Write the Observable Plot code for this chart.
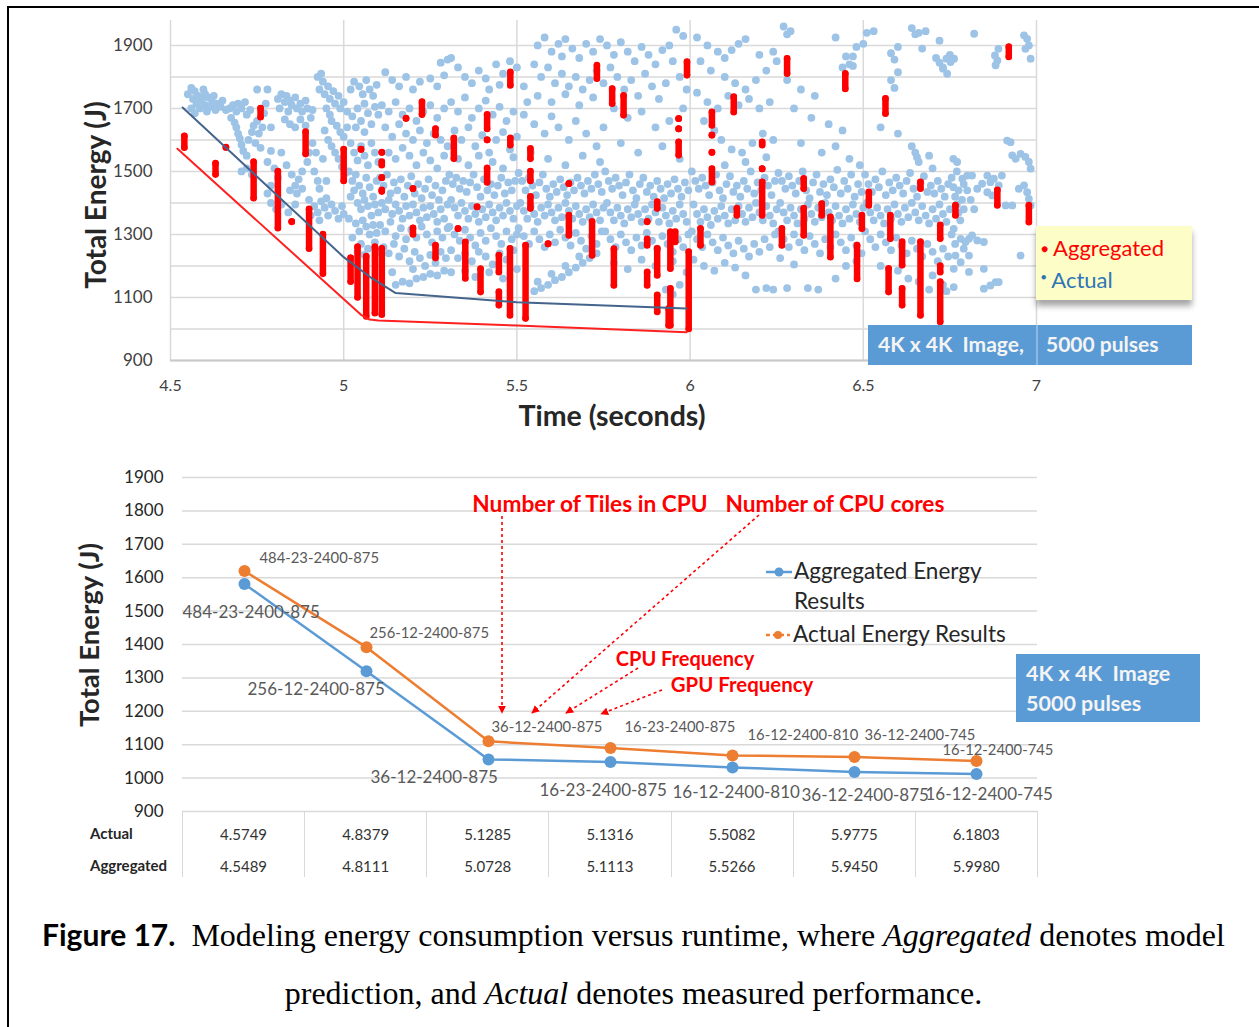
<!DOCTYPE html>
<html><head><meta charset="utf-8">
<script src="https://cdn.jsdelivr.net/npm/d3@7"></script>
<script src="https://cdn.jsdelivr.net/npm/@observablehq/plot@0.6"></script>
<style>
body{margin:0;background:#fff;width:1259px;height:1027px;overflow:hidden;font-family:Lato,sans-serif;position:relative;}
.abs{position:absolute;}
#frame{position:absolute;left:7px;top:6px;width:1300px;height:1100px;border-left:2.5px solid #000;border-top:2.5px solid #000;z-index:20;pointer-events:none;}
.ytitle{position:absolute;transform:translate(-50%,-50%) rotate(-90deg);font-weight:700;white-space:nowrap;color:#262626;}
#legTop{left:1036px;top:226px;width:156px;height:74px;background:#fdfdc8;box-shadow:0 6px 6px rgba(0,0,0,0.35);}
#legTop div{position:absolute;left:5px;font-size:22px;white-space:nowrap;}
#boxTop{left:868px;top:325px;width:324px;height:40px;background:#5b9bd5;color:#f4f4f4;font-weight:700;font-size:21px;}
#boxBot{left:1016px;top:654px;width:184px;height:68px;background:#5b9bd5;color:#f4f4f4;font-weight:700;font-size:21.5px;}
.ann{position:absolute;color:#ff0000;font-weight:700;font-size:22.7px;white-space:nowrap;transform:translate(-50%,-50%);}
.leg2{position:absolute;font-size:22.5px;color:#262626;white-space:nowrap;}
#tbl{position:absolute;left:182px;top:811px;border-collapse:collapse;font-size:15px;color:#333;}
#tbl td{width:122.14px;box-sizing:border-box;padding:0;text-align:center;border-left:1.5px solid #d9d9d9;border-right:1.5px solid #d9d9d9;}
#tbl tr:first-child td{height:44px;padding-top:2px;}
#tbl tr:last-child td{height:22px;}
.rowlab{position:absolute;left:90px;font-size:15px;font-weight:700;color:#262626;transform:translateY(-50%);}
.cap{position:absolute;left:4px;width:1259px;text-align:center;font-family:'Liberation Serif',serif;font-size:32px;color:#000;white-space:nowrap;transform:translateY(-50%);}
</style></head>
<body>
<div id="top" class="abs" style="left:0;top:0"></div>
<div id="bottom" class="abs" style="left:0;top:440px"></div>
<div class="ytitle" style="left:95px;top:195px;font-size:28px">Total Energy (J)</div>
<div class="abs" style="left:612px;top:415px;transform:translate(-50%,-50%);font-weight:700;font-size:28.5px;color:#262626;white-space:nowrap">Time (seconds)</div>
<div id="legTop" class="abs">
  <div style="top:8px;color:#ff0000"><span style="font-size:12px;vertical-align:3px">&#9679;</span> Aggregated</div>
  <div style="top:40px;color:#2e75b6"><span style="font-size:9px;vertical-align:8px">&#9679;</span> Actual</div>
</div>
<div id="boxTop" class="abs">
  <span class="abs" style="left:10px;top:6px;white-space:nowrap">4K x 4K&nbsp; Image,</span>
  <span class="abs" style="left:168px;top:0;width:1.5px;height:40px;background:#8db8e2"></span>
  <span class="abs" style="left:178px;top:6px;white-space:nowrap">5000 pulses</span>
</div>
<div class="ytitle" style="left:88px;top:635px;font-size:27.5px">Total Energy (J)</div>
<div class="ann" style="left:590px;top:503px">Number of Tiles in CPU</div>
<div class="ann" style="left:835px;top:503px">Number of CPU cores</div>
<div class="ann" style="left:685px;top:658px;font-size:20px">CPU Frequency</div>
<div class="ann" style="left:742px;top:684px;font-size:20.4px">GPU Frequency</div>
<svg class="abs" style="left:0;top:0;pointer-events:none" width="1259" height="1027">
  <defs><marker id="ah" viewBox="0 0 10 10" refX="9" refY="5" markerWidth="5" markerHeight="5" orient="auto"><path d="M0,0L10,5L0,10z" fill="#ff0000"/></marker></defs>
  <g stroke="#ff0000" stroke-width="1.6" stroke-dasharray="3,3" fill="none" marker-end="url(#ah)">
    <line x1="502" y1="516" x2="502" y2="713"/>
    <line x1="759" y1="515" x2="532" y2="713"/>
    <line x1="638" y1="668" x2="566" y2="713"/>
    <line x1="662" y1="690" x2="601" y2="714"/>
  </g>
  <line x1="766" y1="572" x2="792" y2="572" stroke="#5b9bd5" stroke-width="2.5"/>
  <circle cx="779" cy="572" r="4.5" fill="#5b9bd5"/>
  <line x1="766" y1="635" x2="790" y2="635" stroke="#ed7d31" stroke-width="2.5" stroke-dasharray="4,3"/>
  <circle cx="778" cy="635" r="4" fill="#ed7d31"/>
</svg>
<div class="leg2" style="left:794px;top:557px">Aggregated Energy</div>
<div class="leg2" style="left:794px;top:587px">Results</div>
<div class="leg2" style="left:793px;top:620px">Actual Energy Results</div>
<div id="boxBot" class="abs">
  <span class="abs" style="left:10px;top:6px;white-space:nowrap">4K x 4K&nbsp; Image</span>
  <span class="abs" style="left:10px;top:36px;white-space:nowrap">5000 pulses</span>
</div>
<div class="rowlab" style="top:833px">Actual</div>
<div class="rowlab" style="top:865px">Aggregated</div>
<table id="tbl"></table>
<div class="cap" style="top:935px"><b style="font-family:Lato,sans-serif;font-size:30px">Figure 17.</b>&nbsp; Modeling energy consumption versus runtime, where <i>Aggregated</i> denotes model</div>
<div class="cap" style="top:993px">prediction, and <i>Actual</i> denotes measured performance.</div>
<div id="frame"></div>
<script>
// ---------- Top chart data ----------
const xTicksTop = [4.5, 5, 5.5, 6, 6.5, 7];
const yTicksTop = [900, 1100, 1300, 1500, 1700, 1900];
const yGridTop = [900, 1000, 1100, 1200, 1300, 1400, 1500, 1600, 1700, 1800, 1900];

// Actual (measured) configurations: [time s, energy J]
const actualPoints = [
[4.55,1745],[4.56,1765],[4.565,1730],[4.57,1755],[4.575,1715],[4.58,1740],[4.585,1700],[4.59,1725],[4.595,1760],[4.60,1710],[4.605,1690],[4.61,1735],[4.615,1705],[4.62,1720],[4.63,1695],[4.635,1715],[4.645,1705],[4.56,1700],[4.57,1685],[4.58,1720],[4.6,1745],[4.625,1740],[4.65,1725],[4.66,1695],
[4.67,1700],[4.68,1710],[4.69,1690],[4.695,1715],[4.705,1700],[4.715,1720],[4.72,1680],[4.73,1695],[4.675,1670],[4.685,1655],[4.69,1640],[4.695,1620],[4.70,1605],[4.705,1585],[4.71,1565],[4.72,1550],[4.725,1600],[4.735,1625],[4.74,1645],[4.75,1660],[4.745,1590],[4.755,1620],[4.76,1575],[4.765,1640],[4.77,1685],[4.78,1760],[4.75,1760],[4.775,1715],[4.72,1510],[4.79,1565],[4.78,1530],[4.735,1490],[4.705,1500],[4.79,1640],
[4.81,1730],[4.82,1745],[4.83,1720],[4.835,1740],[4.845,1725],[4.85,1710],[4.86,1735],[4.865,1700],[4.875,1715],[4.88,1690],[4.89,1725],[4.895,1700],[4.84,1690],[4.815,1700],[4.83,1665],[4.845,1650],[4.86,1640],[4.875,1665],[4.89,1645],[4.905,1670],[4.91,1695],
[4.82,1560],[4.835,1520],[4.85,1490],[4.86,1455],[4.87,1475],[4.88,1500],[4.895,1530],[4.90,1560],[4.91,1590],[4.845,1440],[4.865,1430],[4.88,1445],[4.915,1500],[4.925,1470],[4.93,1445],[4.81,1480],[4.80,1510],[4.79,1455],[4.78,1430],
[4.79,1400],[4.805,1380],[4.82,1395],[4.84,1370],[4.86,1395],[4.9,1410],[4.915,1390],[4.925,1370],[4.935,1405],[4.945,1385],[4.955,1360],[4.965,1395],[4.975,1375],[4.985,1350],[4.995,1390],[4.93,1345],[4.905,1360],[4.95,1415],[5.0,1365],
[4.925,1800],[4.935,1810],[4.94,1785],[4.93,1760],[4.945,1745],[4.955,1770],[4.96,1730],[4.97,1755],[4.975,1715],[4.985,1740],[4.99,1700],[5.0,1720],[5.01,1690],[4.95,1700],[4.96,1680],[4.965,1660],[4.98,1645],[4.99,1625],[5.0,1610],[5.01,1640],[4.945,1630],[4.955,1600],[4.965,1580],[4.975,1560],[4.985,1540],[4.995,1515],[5.005,1495],[4.94,1540],[4.92,1560],[4.95,1470],
[5.02,1760],[5.03,1785],[5.045,1770],[5.055,1745],[5.065,1790],[5.075,1760],[5.085,1740],[5.095,1775],[5.06,1715],[5.04,1700],[5.025,1675],[5.05,1660],[5.07,1685],[5.09,1705],[5.1,1680],[5.08,1650],[5.035,1640],[5.06,1625],
[5.02,1590],[5.03,1560],[5.04,1535],[5.05,1580],[5.06,1550],[5.07,1520],[5.08,1590],[5.09,1560],[5.1,1530],[5.015,1500],[5.025,1470],[5.035,1490],[5.045,1455],[5.055,1430],[5.065,1480],[5.075,1450],[5.085,1420],[5.095,1470],[5.02,1420],[5.03,1440],[5.04,1400],[5.05,1380],[5.06,1410],[5.07,1390],[5.08,1360],[5.09,1395],[5.1,1370],[5.015,1350],[5.035,1335],[5.045,1310],[5.055,1345],[5.065,1325],[5.075,1300],[5.085,1330],[5.095,1305],[5.025,1290],[5.05,1270],[5.07,1255],[5.09,1275],[5.1,1245],[5.04,1245],[5.06,1235],
[5.12,1815],[5.14,1790],[5.16,1770],[5.18,1800],[5.2,1760],[5.22,1785],[5.25,1795],[5.27,1770],[5.29,1805],[5.3,1855],[5.28,1845],
[5.11,1710],[5.13,1690],[5.15,1720],[5.17,1680],[5.19,1700],[5.21,1660],[5.23,1690],[5.25,1710],[5.27,1670],[5.29,1700],[5.12,1640],[5.14,1610],[5.16,1650],[5.18,1620],[5.2,1600],[5.22,1630],[5.24,1590],[5.26,1620],[5.28,1600],[5.13,1560],[5.15,1540],[5.17,1575],[5.19,1550],[5.21,1520],[5.23,1560],[5.25,1535],[5.27,1510],[5.29,1550],[5.3,1580],
[5.105,1480],[5.115,1455],[5.125,1490],[5.135,1430],[5.145,1465],[5.155,1440],[5.165,1475],[5.175,1420],[5.185,1455],[5.195,1485],[5.205,1430],[5.215,1460],[5.225,1415],[5.235,1445],[5.245,1475],[5.255,1425],[5.265,1455],[5.275,1410],[5.285,1440],[5.295,1470],
[5.11,1400],[5.12,1380],[5.13,1410],[5.14,1365],[5.15,1395],[5.16,1375],[5.17,1350],[5.18,1390],[5.19,1360],[5.2,1395],[5.21,1370],[5.22,1345],[5.23,1385],[5.24,1355],[5.25,1390],[5.26,1365],[5.27,1340],[5.28,1380],[5.29,1350],[5.3,1395],
[5.105,1330],[5.12,1310],[5.135,1340],[5.15,1295],[5.165,1320],[5.18,1285],[5.195,1315],[5.21,1290],[5.225,1325],[5.24,1300],[5.255,1275],[5.27,1310],[5.285,1290],[5.3,1320],
[5.115,1260],[5.13,1240],[5.145,1270],[5.16,1230],[5.175,1255],[5.19,1215],[5.205,1245],[5.22,1225],[5.235,1200],[5.25,1235],[5.265,1210],[5.28,1245],[5.295,1225],
[5.15,1140],[5.17,1150],[5.19,1145],[5.21,1160],[5.23,1165],[5.25,1175],[5.27,1170],[5.29,1185],[5.31,1180],[5.14,1180],[5.2,1190],
[5.31,1860],[5.33,1830],[5.35,1800],[5.37,1780],[5.39,1820],[5.41,1795],[5.44,1840],[5.46,1810],[5.48,1850],[5.5,1830],[5.42,1760],[5.45,1775],
[5.31,1720],[5.33,1690],[5.35,1735],[5.37,1670],[5.39,1700],[5.41,1725],[5.43,1680],[5.45,1705],[5.47,1660],[5.49,1690],[5.32,1630],[5.34,1600],[5.36,1640],[5.38,1580],[5.4,1615],[5.42,1560],[5.44,1600],[5.46,1625],[5.48,1570],[5.5,1610],[5.33,1540],[5.36,1520],[5.39,1550],[5.43,1530],[5.46,1510],[5.49,1545],
[5.305,1490],[5.315,1460],[5.325,1480],[5.335,1445],[5.345,1470],[5.355,1435],[5.365,1465],[5.375,1490],[5.385,1450],[5.395,1420],[5.405,1475],[5.415,1440],[5.425,1460],[5.435,1425],[5.445,1455],[5.455,1480],[5.465,1430],[5.475,1465],[5.485,1440],[5.495,1470],
[5.31,1410],[5.32,1385],[5.33,1360],[5.34,1400],[5.35,1375],[5.36,1350],[5.37,1390],[5.38,1365],[5.39,1340],[5.4,1380],[5.41,1355],[5.42,1395],[5.43,1370],[5.44,1345],[5.45,1385],[5.46,1360],[5.47,1400],[5.48,1375],[5.49,1350],[5.5,1390],
[5.305,1325],[5.32,1300],[5.335,1280],[5.35,1315],[5.365,1290],[5.38,1265],[5.395,1305],[5.41,1280],[5.425,1320],[5.44,1295],[5.455,1270],[5.47,1310],[5.485,1285],[5.5,1300],
[5.31,1250],[5.33,1225],[5.35,1240],[5.37,1215],[5.39,1245],[5.41,1230],[5.43,1205],[5.45,1240],[5.47,1220],[5.49,1250],
[5.35,1185],[5.38,1165],[5.42,1180],[5.46,1160],[5.5,1190],
[5.56,1900],[5.58,1925],[5.6,1880],[5.62,1905],[5.64,1920],[5.63,1865],[5.66,1890],[5.68,1860],[5.7,1905],[5.72,1880],[5.74,1920],[5.55,1840],[5.57,1800],[5.59,1830],[5.61,1780],[5.63,1810],[5.65,1770],[5.67,1800],[5.69,1760],[5.71,1790],[5.73,1820],[5.75,1780],[5.56,1740],[5.6,1720],[5.64,1745],[5.68,1710],[5.72,1735],[5.52,1770],[5.53,1720],
[5.52,1680],[5.55,1650],[5.58,1620],[5.6,1675],[5.62,1640],[5.65,1600],[5.67,1660],[5.7,1620],[5.73,1580],[5.75,1640],[5.54,1560],[5.59,1540],[5.64,1520],[5.69,1550],[5.74,1530],
[5.505,1495],[5.515,1470],[5.525,1440],[5.535,1480],[5.545,1455],[5.555,1425],[5.565,1465],[5.575,1490],[5.585,1445],[5.595,1420],[5.605,1460],[5.615,1435],[5.625,1475],[5.635,1450],[5.645,1425],[5.655,1465],[5.665,1440],[5.675,1480],[5.685,1455],[5.695,1430],[5.705,1470],[5.715,1445],[5.725,1490],[5.735,1460],[5.745,1435],
[5.51,1400],[5.52,1375],[5.53,1350],[5.54,1390],[5.55,1365],[5.56,1340],[5.57,1385],[5.58,1360],[5.59,1395],[5.6,1370],[5.61,1345],[5.62,1385],[5.63,1355],[5.64,1400],[5.65,1375],[5.66,1350],[5.67,1390],[5.68,1365],[5.69,1340],[5.7,1380],[5.71,1355],[5.72,1395],[5.73,1370],[5.74,1345],[5.75,1385],
[5.505,1320],[5.52,1295],[5.535,1270],[5.55,1310],[5.565,1285],[5.58,1260],[5.595,1300],[5.61,1275],[5.625,1315],[5.64,1290],[5.655,1265],[5.67,1305],[5.685,1280],[5.7,1255],[5.715,1295],[5.73,1270],[5.745,1310],
[5.55,1120],[5.57,1130],[5.59,1140],[5.61,1155],[5.63,1165],[5.65,1180],[5.67,1195],[5.69,1210],[5.71,1225],[5.73,1240],[5.56,1150],[5.6,1175],[5.64,1200],[5.68,1230],
[5.76,1900],[5.78,1870],[5.8,1910],[5.82,1880],[5.84,1850],[5.86,1895],[5.88,1870],[5.9,1840],[5.92,1885],[5.94,1900],[5.96,1950],[5.98,1930],[5.77,1830],[5.79,1800],[5.81,1760],[5.83,1790],[5.85,1740],[5.87,1810],[5.89,1770],[5.91,1730],[5.93,1780],[5.95,1850],[5.97,1800],[5.99,1760],
[5.78,1700],[5.82,1670],[5.86,1690],[5.9,1640],[5.94,1660],[5.98,1700],[5.8,1590],[5.85,1560],[5.92,1580],[5.97,1540],
[5.755,1500],[5.765,1470],[5.775,1445],[5.785,1480],[5.795,1455],[5.805,1425],[5.815,1465],[5.825,1490],[5.835,1440],[5.845,1415],[5.855,1460],[5.865,1480],[5.875,1435],[5.885,1455],[5.895,1420],[5.905,1470],[5.915,1445],[5.925,1415],[5.935,1460],[5.945,1430],[5.955,1475],[5.965,1445],[5.975,1420],[5.985,1465],[5.995,1440],
[5.76,1400],[5.77,1370],[5.78,1345],[5.79,1385],[5.8,1360],[5.81,1335],[5.82,1380],[5.83,1355],[5.84,1395],[5.85,1365],[5.86,1340],[5.87,1380],[5.88,1350],[5.89,1395],[5.9,1370],[5.91,1340],[5.92,1385],[5.93,1360],[5.94,1335],[5.95,1375],[5.96,1350],[5.97,1395],[5.98,1365],[5.99,1340],
[5.755,1310],[5.77,1285],[5.785,1260],[5.8,1300],[5.815,1275],[5.83,1250],[5.845,1290],[5.86,1265],[5.875,1305],[5.89,1280],[5.905,1255],[5.92,1295],[5.935,1270],[5.95,1245],[5.965,1285],[5.98,1260],[5.995,1300],
[5.78,1210],[5.82,1190],[5.86,1220],[5.9,1200],[5.95,1215],[5.99,1180],[5.97,1140],[5.95,1110],[5.93,1125],
[6.02,1925],[6.05,1900],[6.08,1880],[6.1,1860],[6.12,1885],[6.14,1905],[6.16,1920],[6.03,1850],[6.06,1820],[6.1,1800],[6.13,1780],[6.16,1760],[6.19,1790],[6.22,1820],[6.2,1870],[6.24,1880],[6.25,1850],
[6.02,1750],[6.05,1720],[6.08,1700],[6.11,1740],[6.14,1710],[6.17,1730],[6.2,1700],[6.23,1720],[6.04,1660],[6.07,1630],[6.09,1600],[6.12,1570],[6.15,1560],[6.18,1590],[6.21,1620],[6.24,1600],[6.1,1520],[6.16,1530],[6.22,1545],
[6.005,1500],[6.015,1470],[6.025,1445],[6.035,1480],[6.045,1455],[6.055,1425],[6.065,1465],[6.075,1490],[6.085,1440],[6.095,1415],[6.105,1460],[6.115,1485],[6.125,1435],[6.135,1455],[6.145,1420],[6.155,1470],[6.165,1445],[6.175,1500],[6.185,1430],[6.195,1465],[6.205,1440],[6.215,1480],[6.225,1455],[6.235,1425],[6.245,1470],
[6.01,1395],[6.02,1365],[6.03,1340],[6.04,1380],[6.05,1355],[6.06,1330],[6.07,1375],[6.08,1350],[6.09,1390],[6.1,1360],[6.11,1335],[6.12,1380],[6.13,1345],[6.14,1390],[6.15,1365],[6.16,1340],[6.17,1385],[6.18,1355],[6.19,1400],[6.2,1370],[6.21,1345],[6.22,1390],[6.23,1360],[6.24,1335],[6.25,1380],
[6.005,1310],[6.02,1285],[6.035,1260],[6.05,1300],[6.065,1275],[6.08,1250],[6.095,1290],[6.11,1265],[6.125,1240],[6.14,1280],[6.155,1255],[6.17,1230],[6.185,1270],[6.2,1245],[6.215,1285],[6.23,1260],[6.245,1300],
[6.01,1220],[6.04,1200],[6.07,1185],[6.1,1210],[6.13,1195],[6.16,1170],[6.19,1125],[6.22,1130],[6.24,1125],[6.28,1130],
[6.27,1960],[6.29,1945],[6.28,1935],[6.42,1925],[6.45,1865],[6.47,1865],[6.48,1895],[6.5,1905],[6.51,1940],[6.53,1945],[6.46,1840],[6.44,1830],[6.47,1835],
[6.28,1790],[6.32,1760],[6.36,1740],[6.3,1700],[6.35,1670],[6.4,1650],[6.44,1630],[6.32,1590],[6.38,1560],[6.42,1580],[6.46,1540],[6.49,1520],
[6.255,1495],[6.265,1470],[6.275,1445],[6.285,1485],[6.295,1455],[6.305,1430],[6.315,1470],[6.325,1500],[6.335,1440],[6.345,1415],[6.355,1465],[6.365,1490],[6.375,1435],[6.385,1460],[6.395,1425],[6.405,1475],[6.415,1450],[6.425,1505],[6.435,1430],[6.445,1470],[6.455,1445],[6.465,1490],[6.475,1420],[6.485,1460],[6.495,1435],
[6.26,1400],[6.27,1370],[6.28,1345],[6.29,1385],[6.3,1360],[6.31,1335],[6.32,1380],[6.33,1350],[6.34,1395],[6.35,1365],[6.36,1340],[6.37,1385],[6.38,1355],[6.39,1400],[6.4,1370],[6.41,1345],[6.42,1390],[6.43,1360],[6.44,1335],[6.45,1380],[6.46,1350],[6.47,1395],[6.48,1365],[6.49,1340],[6.5,1385],
[6.255,1310],[6.27,1285],[6.285,1260],[6.3,1300],[6.315,1275],[6.33,1250],[6.345,1295],[6.36,1270],[6.375,1240],[6.39,1285],[6.405,1260],[6.42,1300],[6.435,1275],[6.45,1250],[6.465,1290],[6.48,1265],[6.495,1240],
[6.26,1225],[6.3,1205],[6.34,1130],[6.37,1125],[6.42,1160],[6.45,1200],[6.48,1215],
[6.58,1875],[6.59,1855],[6.6,1895],[6.58,1790],[6.59,1765],[6.6,1815],[6.64,1955],[6.65,1935],[6.66,1940],[6.67,1890],[6.68,1945],[6.72,1915],[6.71,1860],[6.72,1845],[6.73,1830],[6.75,1870],
[6.64,1580],[6.65,1560],[6.655,1545],[6.66,1530],[6.69,1550],[6.55,1640],[6.6,1620],[6.7,1510],
[6.505,1490],[6.515,1460],[6.525,1435],[6.535,1475],[6.545,1450],[6.555,1500],[6.565,1425],[6.575,1465],[6.585,1440],[6.595,1480],[6.605,1455],[6.615,1430],[6.625,1470],[6.635,1495],[6.645,1445],[6.655,1420],[6.665,1460],[6.675,1485],[6.685,1435],[6.695,1455],[6.705,1430],[6.715,1470],[6.725,1445],[6.735,1420],[6.745,1460],
[6.51,1400],[6.52,1370],[6.53,1345],[6.54,1385],[6.55,1360],[6.56,1335],[6.57,1380],[6.58,1350],[6.59,1395],[6.6,1365],[6.61,1340],[6.62,1385],[6.63,1355],[6.64,1400],[6.65,1370],[6.66,1345],[6.67,1390],[6.68,1360],[6.69,1335],[6.7,1380],[6.71,1350],[6.72,1395],[6.73,1365],[6.74,1340],[6.75,1380],
[6.505,1310],[6.52,1285],[6.535,1260],[6.55,1300],[6.565,1275],[6.58,1250],[6.595,1290],[6.61,1265],[6.625,1240],[6.64,1280],[6.655,1255],[6.67,1230],[6.685,1270],[6.7,1245],[6.715,1215],[6.73,1255],[6.745,1230],
[6.55,1200],[6.6,1185],[6.63,1160],[6.66,1150],[6.7,1170],[6.73,1140],[6.74,1120],[6.69,1125],
[6.82,1937],[6.88,1868],[6.887,1852],[6.882,1837],[6.89,1889],[6.74,1858],[6.752,1847],[6.762,1858],[6.73,1826],[6.742,1810],[6.964,1932],[6.973,1921],[6.978,1900],[6.968,1889],[6.983,1858],
[6.915,1598],[6.925,1593],[6.93,1551],[6.94,1540],[6.954,1556],[6.968,1546],[6.978,1530],[6.983,1509],
[6.771,1530],[6.786,1477],[6.8,1487],[6.814,1487],[6.829,1445],[6.843,1461],[6.858,1487],[6.867,1466],[6.877,1477],[6.891,1456],[6.9,1487],[6.858,1434],[6.872,1424],[6.911,1392],[6.93,1392],[6.949,1445],[6.964,1456],[6.973,1434],[6.978,1413],[6.983,1392],
[6.761,1318],[6.781,1286],[6.795,1276],[6.805,1286],[6.814,1297],[6.829,1281],[6.848,1276],[6.79,1255],[6.805,1233],[6.766,1233],[6.781,1212],[6.761,1191],[6.805,1181],[6.848,1191],[6.954,1233],[6.848,1128],[6.867,1138],[6.882,1149],[6.891,1149],[6.761,1133],
[6.755,1480],[6.76,1450],[6.765,1420],[6.77,1395],[6.775,1370],[6.78,1345],[6.755,1300],[6.765,1270],[6.775,1440],[6.785,1410],[6.79,1380],[6.77,1500],[6.76,1540],[6.8,1440],[6.79,1460],[6.81,1410],[6.82,1380]
];

// Aggregated (model) configurations: stacks of points [time s, lowest J, highest J]
const aggregatedStacks = [
[4.54,1575,1612],[4.63,1490,1525],[4.66,1576,1576],[4.76,1672,1700],[4.74,1415,1530],[4.81,1320,1500],[4.85,1340,1340],[4.89,1555,1625],[4.90,1255,1380],[4.94,1175,1300],[5.0,1470,1570],[5.02,1150,1225],[5.05,1570,1570],
[5.04,1100,1260],[5.065,1040,1230],[5.09,1050,1260],
[5.11,1045,1255],[5.11,1436,1440],[5.11,1480,1480],[5.11,1520,1530],[5.11,1560,1560],[5.18,1668,1668],[5.2,1300,1320],[5.2,1445,1445],[5.226,1680,1720],[5.265,1225,1265],[5.265,1615,1635],[5.318,1540,1605],[5.33,1318,1318],[5.351,1160,1275],[5.385,1387,1387],[5.395,1117,1190],[5.414,1635,1680],[5.414,1600,1600],[5.414,1465,1510],[5.448,1180,1233],[5.448,1075,1117],[5.481,1773,1815],[5.481,1583,1605],[5.48,1043,1255],[5.525,1033,1265],[5.539,1540,1572],[5.539,1470,1500],[5.539,1382,1420],[5.59,1270,1270],[5.65,1461,1461],[5.65,1297,1360],[5.717,1233,1340],[5.731,1794,1836],[5.775,1715,1762],[5.78,1138,1254],[5.808,1678,1740],[5.876,1340,1340],[5.876,1265,1285],[5.876,1138,1180],[5.905,1382,1403],[5.905,1170,1255],[5.905,1054,1107],[5.938,1011,1064],
[5.943,1191,1308],[5.943,1011,1128],[5.957,1276,1308],[5.967,1551,1593],[5.967,1635,1635],[5.967,1667,1667],[5.991,1805,1847],[5.996,1000,1244],[6.03,1265,1318],[6.063,1646,1688],[6.063,1615,1615],[6.063,1560,1560],[6.063,1466,1508],[6.126,1688,1736],[6.135,1360,1382],[6.208,1583,1593],[6.208,1508,1508],[6.208,1360,1466],[6.265,1265,1318],[6.28,1810,1858],[6.328,1445,1477],[6.328,1297,1382],[6.38,1360,1397],[6.405,1228,1355],[6.448,1762,1810],[6.482,1159,1265],[6.496,1318,1360],[6.516,1392,1434],[6.564,1683,1731],[6.573,1117,1191],[6.578,1286,1360],[6.612,1202,1276],[6.612,1075,1128],[6.665,1445,1466],[6.665,1043,1276],[6.722,1286,1329],[6.722,1180,1200],[6.722,1022,1149],[6.766,1360,1392],[6.887,1392,1440],[6.92,1863,1895],[6.978,1339,1392]
];

// Lower envelopes (best configurations)
const actualFront = [[4.535,1703],[5.0,1228],[5.08,1162],[5.15,1114],[5.5,1085],[5.99,1065]];
const aggregatedFront = [[4.52,1572],[5.05,1045],[5.075,1030],[5.1,1027],[5.5,1011],[5.99,990]];

// ---------- Bottom chart data ----------
const actualTimes = ["4.5749","4.8379","5.1285","5.1316","5.5082","5.9775","6.1803"];
const aggregatedTimes = ["4.5489","4.8111","5.0728","5.1113","5.5266","5.9450","5.9980"];
const actualEnergy = [1620, 1392, 1110, 1090, 1068, 1063, 1051];
const aggregatedEnergy = [1581, 1320, 1056, 1048, 1032, 1018, 1012];
const actualConfigs = ["484-23-2400-875","256-12-2400-875","36-12-2400-875","16-23-2400-875","16-12-2400-810","36-12-2400-745","16-12-2400-745"];
const aggregatedConfigs = ["484-23-2400-875","256-12-2400-875","36-12-2400-875","16-23-2400-875","16-12-2400-810","36-12-2400-875","16-12-2400-745"];
const yTicksBottom = [900,1000,1100,1200,1300,1400,1500,1600,1700,1800,1900];

const fmt = d => String(d);

// ---------- Top chart ----------
const topChart = Plot.plot({
  width: 1259, height: 440,
  marginLeft: 170, marginRight: 223, marginTop: 20, marginBottom: 80,
  style: {fontFamily: "Lato, sans-serif", fontSize: "16px", color: "#404040", background: "none", overflow: "visible"},
  x: {domain: [4.5, 7]},
  y: {domain: [900, 1979]},
  marks: [
    Plot.gridY(yGridTop, {stroke: "#d9d9d9", strokeOpacity: 1, strokeWidth: 1.5}),
    Plot.gridX(xTicksTop, {stroke: "#d9d9d9", strokeOpacity: 1, strokeWidth: 1.5}),
    Plot.ruleY([900], {stroke: "#c8c8c8", strokeWidth: 2}),
    Plot.dot(actualPoints, {x: d => d[0], y: d => d[1], r: 3.9, fill: "#9dc3e6", stroke: "none"}),
    Plot.ruleX(aggregatedStacks, {x: d => d[0], y1: d => d[1], y2: d => d[2], stroke: "#ff0000", strokeWidth: 6.5, strokeLinecap: "round"}),
    Plot.dot(aggregatedStacks, {x: d => d[0], y: d => d[1], r: 3.3, fill: "#ff0000"}),
    Plot.dot(aggregatedStacks, {x: d => d[0], y: d => d[2], r: 3.3, fill: "#ff0000"}),
    Plot.line(actualFront, {x: d => d[0], y: d => d[1], stroke: "#44648c", strokeWidth: 2}),
    Plot.line(aggregatedFront, {x: d => d[0], y: d => d[1], stroke: "#ff2020", strokeWidth: 2}),
    Plot.axisX(xTicksTop, {tickSize: 0, tickPadding: 19, label: null, tickFormat: fmt, fontSize: 16}),
    Plot.axisY(yTicksTop, {tickSize: 0, tickPadding: 18, label: null, tickFormat: fmt, fontSize: 17})
  ]
});
document.getElementById("top").appendChild(topChart);

// ---------- Bottom chart ----------
const rows = aggregatedTimes.map((t, i) => ({
  col: t, act: actualEnergy[i], agg: aggregatedEnergy[i],
  actCfg: actualConfigs[i], aggCfg: aggregatedConfigs[i]
}));
// label placement offsets (layout only)
const actOff = [[15,-13],[3,-14],[3,-14],[14,-21],[15,-20],[10,-22],[-34,-11]];
const aggOff = [[-62,29],[-119,18],[-118,18],[-71,28],[-60,25],[-53,23],[-51,20]];
const labelMarks = [];
rows.forEach((r, i) => {
  labelMarks.push(Plot.text([r], {x: "col", y: "act", text: "actCfg", dx: actOff[i][0], dy: actOff[i][1], textAnchor: "start", fontSize: 14.8, fill: "#595959"}));
  labelMarks.push(Plot.text([r], {x: "col", y: "agg", text: "aggCfg", dx: aggOff[i][0], dy: aggOff[i][1], textAnchor: "start", fontSize: 17, fill: "#595959"}));
});
const bottomChart = Plot.plot({
  width: 1259, height: 450,
  marginLeft: 182, marginRight: 222, marginTop: 37, marginBottom: 79,
  style: {fontFamily: "Lato, sans-serif", fontSize: "16px", color: "#262626", background: "none", overflow: "visible"},
  x: {type: "point", domain: aggregatedTimes, padding: 0.5, axis: null},
  y: {domain: [900, 1900]},
  marks: [
    Plot.gridY(yTicksBottom, {stroke: "#d9d9d9", strokeOpacity: 1, strokeWidth: 1.5}),
    Plot.axisY(yTicksBottom, {tickSize: 0, tickPadding: 19, label: null, tickFormat: fmt, fontSize: 17}),
    Plot.line(rows, {x: "col", y: "agg", stroke: "#5b9bd5", strokeWidth: 2.5}),
    Plot.line(rows, {x: "col", y: "act", stroke: "#ed7d31", strokeWidth: 2.5}),
    Plot.dot(rows, {x: "col", y: "agg", r: 6, fill: "#5b9bd5"}),
    Plot.dot(rows, {x: "col", y: "act", r: 6, fill: "#ed7d31"}),
    ...labelMarks
  ]
});
document.getElementById("bottom").appendChild(bottomChart);

// ---------- Table ----------
const tbl = document.getElementById("tbl");
[actualTimes, aggregatedTimes].forEach(vals => {
  const tr = document.createElement("tr");
  vals.forEach(v => { const td = document.createElement("td"); td.textContent = v; tr.appendChild(td); });
  tbl.appendChild(tr);
});
</script>
</body></html>
